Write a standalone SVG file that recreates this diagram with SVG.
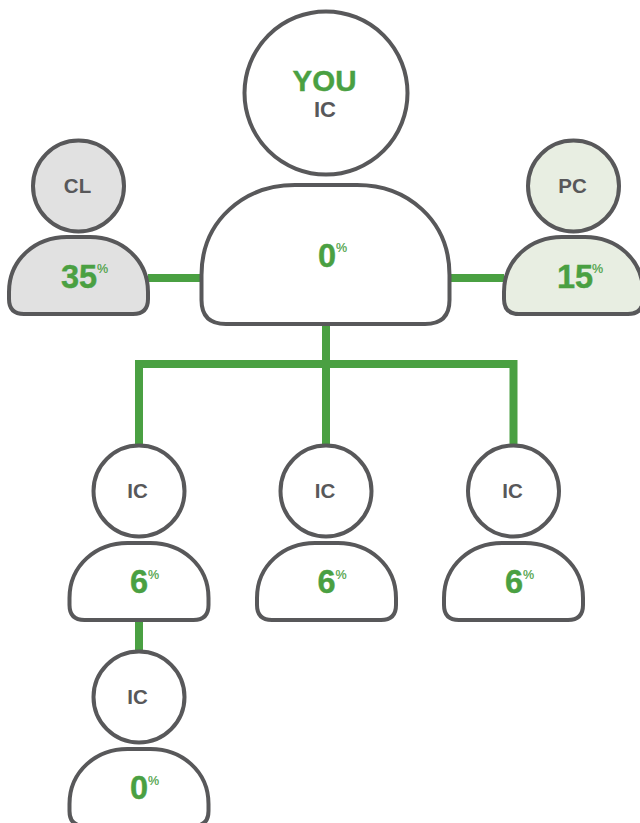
<svg xmlns="http://www.w3.org/2000/svg" width="640" height="823" viewBox="0 0 640 823">
<style>
.s{stroke:#58585a;stroke-width:4;fill:#fff}
.cl{fill:#e1e1e1}
.pc{fill:#e8eee2}
.c{fill:none;stroke:#4aa042;stroke-width:8}
text{font-family:"Liberation Sans",Arial,sans-serif;font-weight:700;text-anchor:middle}
.n{font-size:20.500px;fill:#58585a}
.p{font-size:32.500px;fill:#4aa042;stroke:#4aa042;stroke-width:.4}
.u{font-size:12.500px;fill:#4aa042;font-weight:400;text-anchor:start;stroke:#4aa042;stroke-width:.2}
</style>
<defs>
<path id="b" d="M0 55C0 22 27 0 58 0H81C112 0 139 22 139 55V62Q139 77 124 77H15Q0 77 0 62Z"/>
</defs>
<g id="connectors">
<path class="c" d="M148 278H201M450 278H504M326 324V445M139 445V364H513.500V445M139 620V652"/>
</g>
<g id="you">
<circle class="s" cx="326" cy="93" r="81.500"/>
<path class="s" d="M201.500 275C201.500 220 245 185 295 185H357C407 185 449.500 220 449.500 275V300Q449.500 324 425 324H226Q201.500 324 201.500 300Z"/>
<text x="324.500" y="91" style="font-size:29.500px;fill:#4aa042;stroke:#4aa042;stroke-width:.4">YOU</text>
<text class="n" x="325" y="117" style="font-size:22px">IC</text>
<text class="p" x="327" y="267">0</text><text class="u" x="336" y="252">%</text>
</g>
<g id="cl">
<circle class="s cl" cx="78.500" cy="186" r="45.500"/>
<use href="#b" class="s cl" x="9" y="237"/>
<text class="n" x="77.500" y="193">CL</text>
<text class="p" x="79" y="288">35</text><text class="u" x="97" y="273">%</text>
</g>
<g id="pc">
<circle class="s pc" cx="573.500" cy="186" r="45.500"/>
<use href="#b" class="s pc" x="504" y="237"/>
<text class="n" x="572.500" y="193">PC</text>
<text class="p" x="575" y="288">15</text><text class="u" x="592" y="273">%</text>
</g>
<g id="ic1">
<circle class="s" cx="139" cy="491" r="45.500"/>
<use href="#b" class="s" x="69.500" y="543"/>
<text class="n" x="137.500" y="498">IC</text>
<text class="p" x="139" y="593">6</text><text class="u" x="148" y="579">%</text>
</g>
<g id="ic2">
<circle class="s" cx="326" cy="491" r="45.500"/>
<use href="#b" class="s" x="257" y="543"/>
<text class="n" x="325" y="498">IC</text>
<text class="p" x="326.500" y="593">6</text><text class="u" x="335.500" y="579">%</text>
</g>
<g id="ic3">
<circle class="s" cx="513.500" cy="491" r="45.500"/>
<use href="#b" class="s" x="444" y="543"/>
<text class="n" x="512.500" y="498">IC</text>
<text class="p" x="514" y="593">6</text><text class="u" x="523" y="579">%</text>
</g>
<g id="ic4">
<circle class="s" cx="139" cy="697" r="45.500"/>
<use href="#b" class="s" x="69.500" y="749"/>
<text class="n" x="137.500" y="704">IC</text>
<text class="p" x="139" y="799">0</text><text class="u" x="148" y="785">%</text>
</g>
</svg>
